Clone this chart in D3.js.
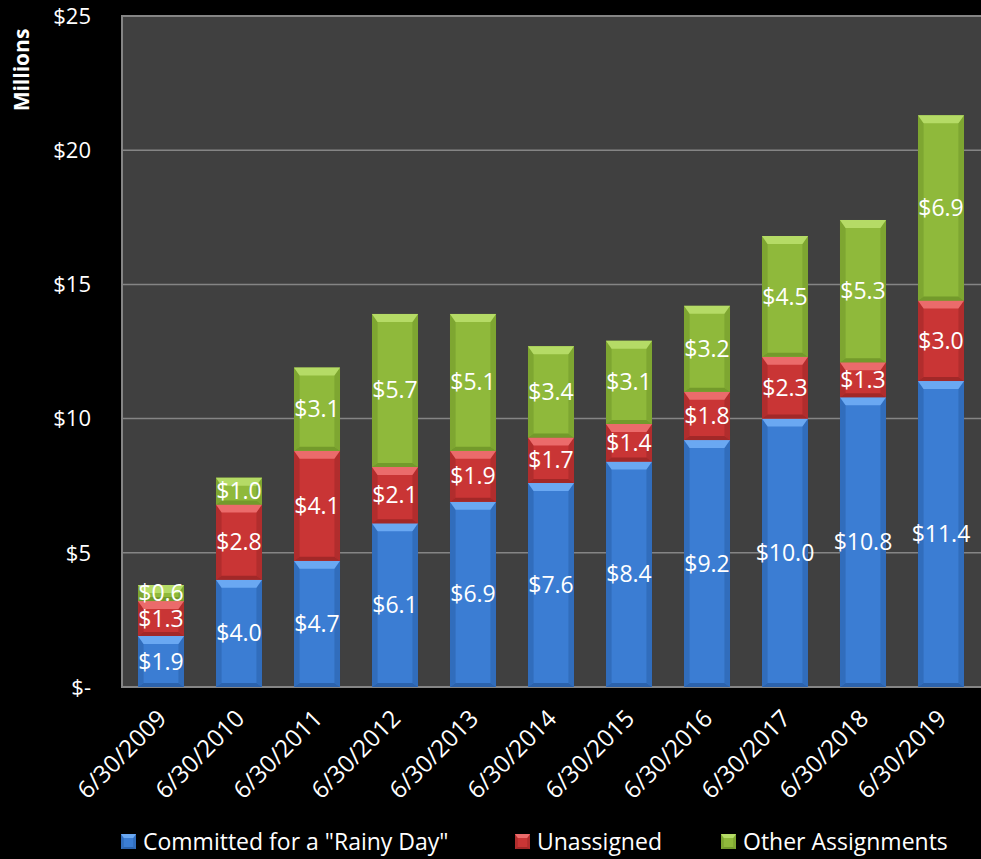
<!DOCTYPE html>
<html>
<head>
<meta charset="utf-8">
<script src="https://cdn.jsdelivr.net/npm/d3@7"></script>
<style>
  body { margin: 0; background: #000; }
  svg { display: block; font-family: "Open Sans", sans-serif; }
</style>
</head>
<body>
<svg id="chart" width="981" height="859"></svg>
<script>
var dates = ["6/30/2009", "6/30/2010", "6/30/2011", "6/30/2012", "6/30/2013", "6/30/2014",
  "6/30/2015", "6/30/2016", "6/30/2017", "6/30/2018", "6/30/2019"];
var rainyDay = [1.9, 4.0, 4.7, 6.1, 6.9, 7.6, 8.4, 9.2, 10.0, 10.8, 11.4];
var unassigned = [1.3, 2.8, 4.1, 2.1, 1.9, 1.7, 1.4, 1.8, 2.3, 1.3, 3.0];
var otherAssign = [0.6, 1.0, 3.1, 5.7, 5.1, 3.4, 3.1, 3.2, 4.5, 5.3, 6.9];
var seriesNames = ["Committed for a \"Rainy Day\"", "Unassigned", "Other Assignments"];
var yTicks = [0, 5, 10, 15, 20, 25];

var colors = [
  { base: "#3b7dd3", light: "#6aa8f2", dark: "#2c63ad" },
  { base: "#c93535", light: "#eb6b6b", dark: "#a22828" },
  { base: "#8fb93b", light: "#b5db66", dark: "#739a2b" }
];

var svg = d3.select("#chart");
var plotLeft = 122, plotRight = 980, plotTop = 16, plotBottom = 687;

var x = d3.scaleBand().domain(dates).range([plotLeft, plotRight]).paddingInner(0.41).paddingOuter(0.205);
var y = d3.scaleLinear().domain([0, 25]).range([plotBottom, plotTop]);

var rows = dates.map(function(d, i) {
  return { date: d, s0: rainyDay[i], s1: unassigned[i], s2: otherAssign[i] };
});
var layers = d3.stack().keys(["s0", "s1", "s2"])(rows);

// plot area
svg.append("rect").attr("x", plotLeft).attr("y", plotTop)
  .attr("width", plotRight - plotLeft + 2).attr("height", plotBottom - plotTop)
  .attr("fill", "#404040").attr("stroke", "#858585").attr("stroke-width", 2);

svg.append("g").selectAll("line").data(yTicks.filter(function(t) { return t > 0 && t < 25; }))
  .enter().append("line")
  .attr("x1", plotLeft).attr("x2", plotRight + 2)
  .attr("y1", function(d) { return y(d); }).attr("y2", function(d) { return y(d); })
  .attr("stroke", "#858585").attr("stroke-width", 1.5);

// y tick labels
svg.append("g").selectAll("text").data(yTicks).enter().append("text")
  .attr("x", 91).attr("y", function(d) { return y(d); })
  .attr("dy", "0.35em").attr("text-anchor", "end")
  .attr("fill", "#fff").attr("font-size", 22)
  .text(function(d) { return d === 0 ? "$-" : "$" + d; });

svg.append("text")
  .attr("transform", "translate(22,70) rotate(-90)")
  .attr("text-anchor", "middle").attr("dy", "0.35em")
  .attr("fill", "#fff").attr("font-size", 21).attr("font-weight", "bold")
  .text("Millions");

// beveled segment
function bevelBox(g, x0, y0, w, h, c, size) {
  var b = Math.min(size, h / 2), s = b * 0.7;
  g.append("rect").attr("x", x0).attr("y", y0).attr("width", w).attr("height", h).attr("fill", c.base);
  g.append("polygon").attr("fill", c.dark).attr("opacity", 0.6)
    .attr("points", [[x0, y0], [x0 + s, y0 + b], [x0 + s, y0 + h - b * 0.5], [x0, y0 + h]].join(" "));
  g.append("polygon").attr("fill", c.dark).attr("opacity", 0.6)
    .attr("points", [[x0 + w, y0], [x0 + w - s, y0 + b], [x0 + w - s, y0 + h - b * 0.5], [x0 + w, y0 + h]].join(" "));
  g.append("polygon").attr("fill", c.light)
    .attr("points", [[x0, y0], [x0 + w, y0], [x0 + w - s, y0 + b], [x0 + s, y0 + b]].join(" "));
  g.append("polygon").attr("fill", c.dark)
    .attr("points", [[x0, y0 + h], [x0 + w, y0 + h], [x0 + w - s, y0 + h - b * 0.5], [x0 + s, y0 + h - b * 0.5]].join(" "));
}

var bars = svg.append("g");
layers.forEach(function(layer, li) {
  layer.forEach(function(d) {
    var g = bars.append("g");
    bevelBox(g, x(d.data.date), y(d[1]), x.bandwidth(), y(d[0]) - y(d[1]), colors[li], 8);
  });
});

// data labels
var labels = svg.append("g");
layers.forEach(function(layer) {
  labels.selectAll(null).data(layer).enter().append("text")
    .attr("x", function(d) { return x(d.data.date) + x.bandwidth() / 2; })
    .attr("y", function(d) { return (y(d[0]) + y(d[1])) / 2; })
    .attr("dy", "0.35em").attr("text-anchor", "middle")
    .attr("fill", "#fff").attr("font-size", 23)
    .text(function(d) { return "$" + (d[1] - d[0]).toFixed(1); });
});

// x labels
svg.append("g").selectAll("text").data(dates).enter().append("text")
  .attr("transform", function(d) {
    return "translate(" + (x(d) + x.bandwidth() / 2 + 1) + "," + 714 + ") rotate(-45)";
  })
  .attr("text-anchor", "end").attr("dy", "0.35em")
  .attr("fill", "#fff").attr("font-size", 24)
  .text(function(d) { return d; });

// legend
var legendX = [121, 515, 721];
var legend = svg.append("g");
seriesNames.forEach(function(name, i) {
  var g = legend.append("g");
  bevelBox(g, legendX[i], 834, 15, 15, colors[i], 4);
  g.append("text").attr("x", legendX[i] + 22).attr("y", 842).attr("dy", "0.35em")
    .attr("fill", "#fff").attr("font-size", 23).text(name);
});
</script>
</body>
</html>
